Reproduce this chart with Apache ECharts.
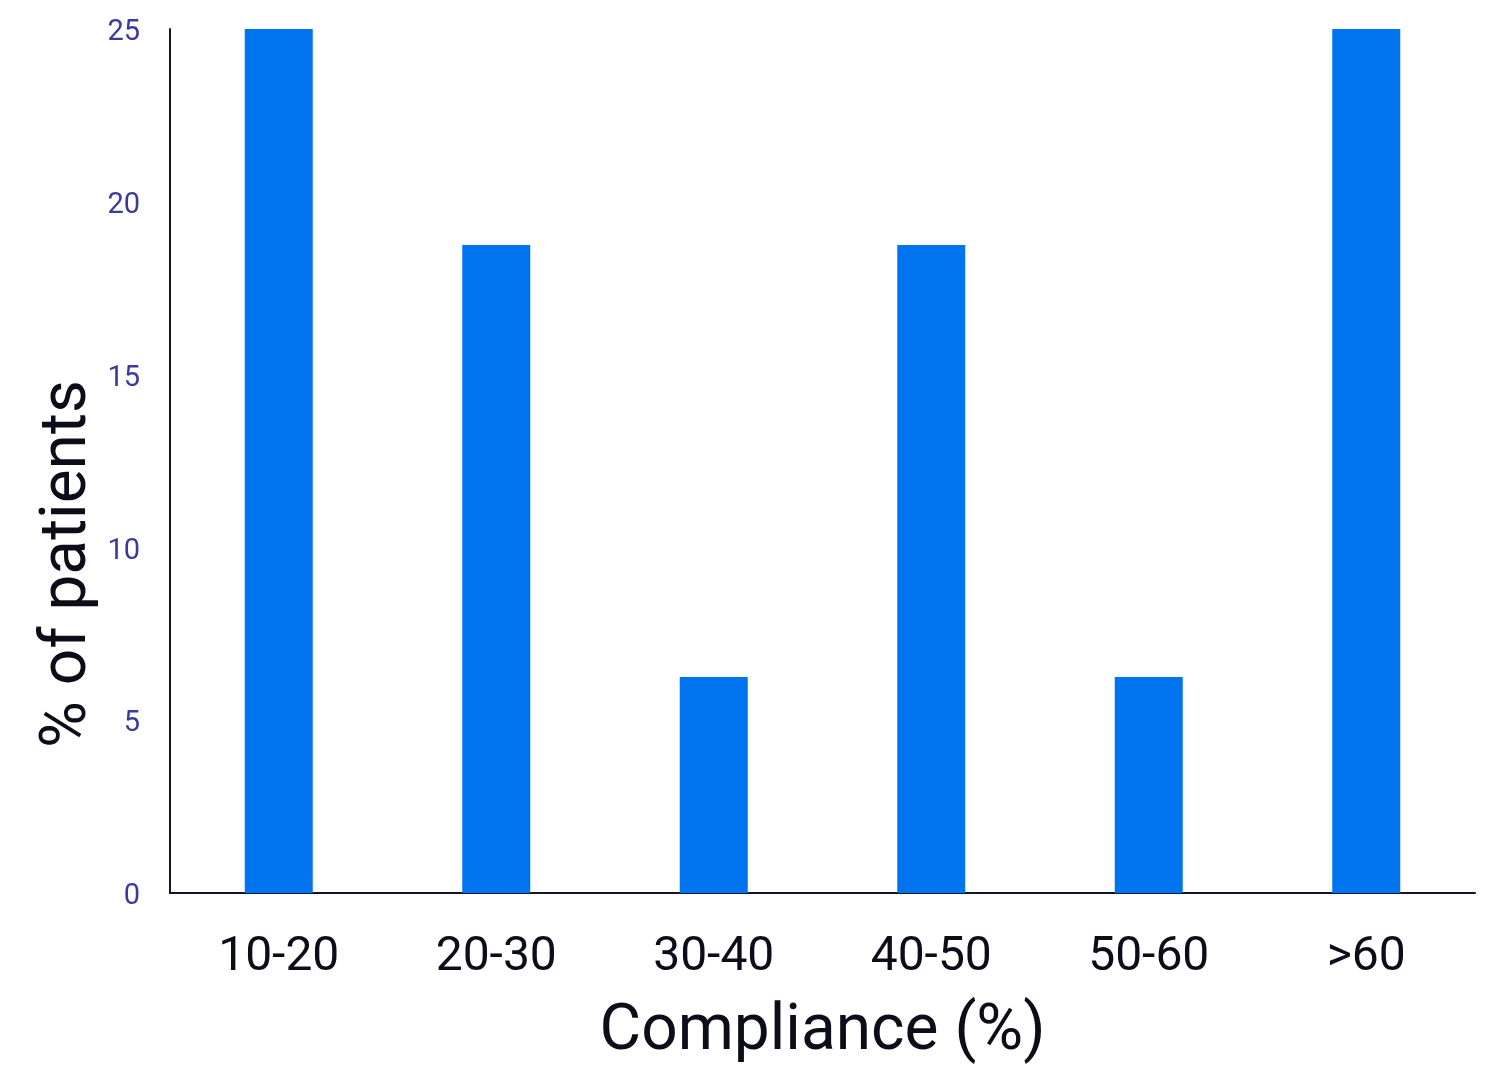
<!DOCTYPE html>
<html>
<head>
<meta charset="utf-8">
<script src="https://cdn.jsdelivr.net/npm/echarts@6/dist/echarts.min.js"></script>
<style>html,body{margin:0;padding:0;background:#fff}#c{width:1498px;height:1065px}</style>
</head>
<body>
<div id="c"></div>
<script>
const categories = ['10-20', '20-30', '30-40', '40-50', '50-60', '>60'];
const patientPct = [25, 18.75, 6.25, 18.75, 6.25, 25];
const yTicks = [0, 5, 10, 15, 20, 25];
const xAxisTitle = 'Compliance (%)';
const yAxisTitle = '% of patients';

const chart = echarts.init(document.getElementById('c'), null, {renderer: 'canvas'});
chart.setOption({
  animation: false,
  grid: {left: 170, right: 23, top: 29, bottom: 172, containLabel: false, outerBoundsMode: 'none'},
  xAxis: {
    type: 'category',
    data: categories,
    axisLine: {show: true, lineStyle: {color: '#14142a', width: 2}},
    axisTick: {show: false},
    axisLabel: {fontFamily: 'Roboto', fontSize: 48, color: '#0d0d1a', margin: 41},
    name: xAxisTitle,
    nameLocation: 'middle',
    nameGap: 108,
    nameTextStyle: {fontFamily: 'Roboto', fontSize: 64, color: '#0d0d1a'}
  },
  yAxis: {
    type: 'value',
    min: yTicks[0],
    max: yTicks[yTicks.length - 1],
    interval: 5,
    axisLine: {show: true, lineStyle: {color: '#14142a', width: 2}},
    axisTick: {show: false},
    splitLine: {show: false},
    axisLabel: {fontFamily: 'Roboto', fontSize: 29, color: '#3b3b9b', margin: 30, lineHeight: 36, verticalAlign: 'top', padding: [-14, 0, 0, 0]}
  },
  graphic: [{
    type: 'text',
    x: 69, y: 564,
    rotation: Math.PI / 2,
    style: {
      text: yAxisTitle,
      font: '64px Roboto',
      fill: '#0d0d1a',
      textAlign: 'center',
      textVerticalAlign: 'middle'
    }
  }],
  series: [{
    type: 'bar',
    data: patientPct,
    barWidth: 68,
    itemStyle: {color: '#0074ee'}
  }]
});
</script>
</body>
</html>
